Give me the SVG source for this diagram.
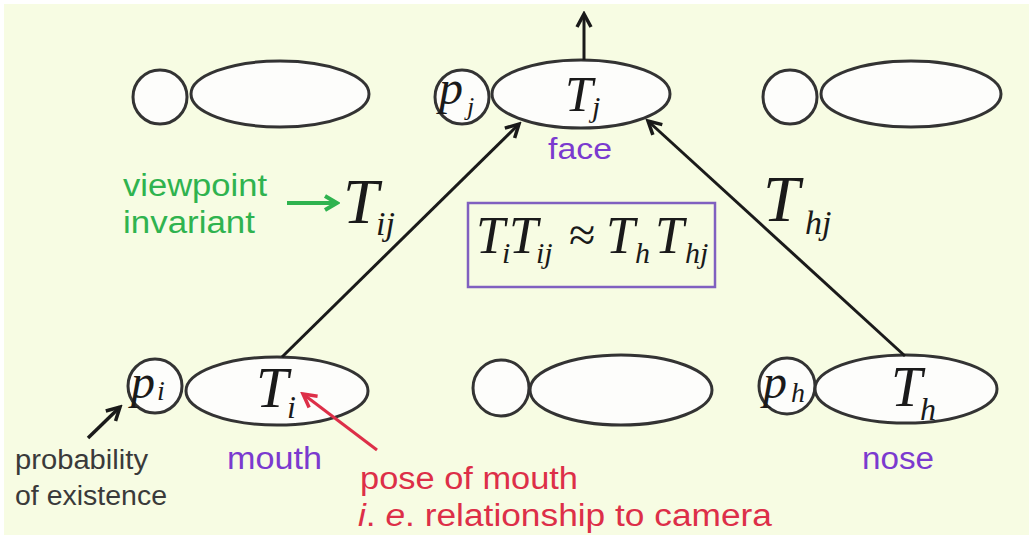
<svg xmlns="http://www.w3.org/2000/svg" width="1029" height="535" viewBox="0 0 1029 535">
<style>
.bg{fill:#f7fce3}
.c{fill:#fdfdfb;stroke:#333;stroke-width:3}
.m{font-family:"Liberation Serif",serif;font-style:italic;fill:#1a1a1a}
.s{font-family:"Liberation Sans",Arial,sans-serif}
.pur{fill:#7b3acf}
.grn{fill:#2fb34f}
.red{fill:#dd2f48}
.gry{fill:#3a3a3a}
.ln{fill:none;stroke:#1a1a1a;stroke-width:3}
</style>
<defs>
<marker id="ak" viewBox="0 0 20 20" refX="17" refY="10" markerWidth="20" markerHeight="20" markerUnits="userSpaceOnUse" orient="auto">
<path d="M4,3 L17,10 L4,17" fill="none" stroke="#1a1a1a" stroke-width="3.5"/>
</marker>
<marker id="ag" viewBox="0 0 20 20" refX="17" refY="10" markerWidth="20" markerHeight="20" markerUnits="userSpaceOnUse" orient="auto">
<path d="M5,3 L17,10 L5,17" fill="none" stroke="#2fb34f" stroke-width="4"/>
</marker>
<marker id="ar" viewBox="0 0 20 20" refX="17" refY="10" markerWidth="20" markerHeight="20" markerUnits="userSpaceOnUse" orient="auto">
<path d="M4,3 L17,10 L4,17" fill="none" stroke="#dd2f48" stroke-width="3.5"/>
</marker>
</defs>
<rect class="bg" x="4" y="4" width="1025" height="531"/>

<g id="node-top-left">
<circle class="c" cx="160" cy="97" r="27"/>
<ellipse class="c" cx="280" cy="94" rx="89" ry="33"/>
</g>

<g id="node-face">
<circle class="c" cx="462" cy="97" r="27"/>
<ellipse class="c" cx="581" cy="94" rx="89" ry="34"/>
<text class="m"><tspan x="439" y="104" font-size="48">p</tspan><tspan x="467" y="115" font-size="26">j</tspan></text>
<text class="m"><tspan x="565" y="111" font-size="50">T</tspan><tspan x="592" y="117" font-size="30">j</tspan></text>
<text class="s pur" x="548" y="159" font-size="30" textLength="64" lengthAdjust="spacingAndGlyphs">face</text>
</g>

<g id="node-top-right">
<circle class="c" cx="790" cy="97" r="27"/>
<ellipse class="c" cx="911" cy="94" rx="90" ry="33"/>
</g>

<g id="node-mouth">
<circle class="c" cx="155" cy="386" r="27"/>
<ellipse class="c" cx="277" cy="391" rx="91" ry="34"/>
<text class="m"><tspan x="131" y="398" font-size="48">p</tspan><tspan x="157" y="400" font-size="28">i</tspan></text>
<text class="m"><tspan x="256" y="407" font-size="58">T</tspan><tspan x="287" y="418" font-size="32">i</tspan></text>
<text class="s pur" x="227" y="469" font-size="31" textLength="95" lengthAdjust="spacingAndGlyphs">mouth</text>
</g>

<g id="node-bottom-middle">
<circle class="c" cx="501" cy="388" r="28"/>
<ellipse class="c" cx="621" cy="390" rx="91" ry="35"/>
</g>

<g id="node-nose">
<circle class="c" cx="787" cy="386" r="28"/>
<ellipse class="c" cx="906" cy="389" rx="91" ry="34"/>
<text class="m"><tspan x="763" y="398" font-size="48">p</tspan><tspan x="791" y="402" font-size="28">h</tspan></text>
<text class="m"><tspan x="891" y="406" font-size="56">T</tspan><tspan x="920" y="420" font-size="32">h</tspan></text>
<text class="s pur" x="862" y="469" font-size="31" textLength="72" lengthAdjust="spacingAndGlyphs">nose</text>
</g>

<g id="label-Tij">
<text class="m"><tspan x="343" y="223" font-size="64">T</tspan><tspan x="376" y="235" font-size="34">ij</tspan></text>
</g>

<g id="label-Thj">
<text class="m"><tspan x="763" y="221" font-size="66">T</tspan><tspan x="805" y="234" font-size="34">hj</tspan></text>
</g>

<g id="viewpoint-note">
<text class="s grn" x="123" y="196" font-size="31" textLength="144" lengthAdjust="spacingAndGlyphs">viewpoint</text>
<text class="s grn" x="123" y="233" font-size="31" textLength="132" lengthAdjust="spacingAndGlyphs">invariant</text>
</g>

<g id="equation">
<rect x="468" y="203" width="247" height="84" fill="none" stroke="#8060c0" stroke-width="2.5"/>
<text class="m"><tspan x="476" y="253" font-size="52">T</tspan><tspan x="502" y="263" font-size="30">i</tspan><tspan x="509" y="253" font-size="52">T</tspan><tspan x="536" y="263" font-size="30">ij</tspan><tspan x="569" y="251" font-size="48" font-style="normal">≈</tspan><tspan x="606" y="253" font-size="52">T</tspan><tspan x="635" y="263" font-size="30">h</tspan><tspan x="655" y="253" font-size="52">T</tspan><tspan x="685" y="263" font-size="30">hj</tspan></text>
</g>

<g id="existence-note">
<text class="s gry" x="15" y="469" font-size="27" textLength="133" lengthAdjust="spacingAndGlyphs">probability</text>
<text class="s gry" x="15" y="505" font-size="27" textLength="152" lengthAdjust="spacingAndGlyphs">of existence</text>
</g>

<g id="pose-note">
<text class="s red" x="360" y="489" font-size="31" textLength="218" lengthAdjust="spacingAndGlyphs">pose of mouth</text>
<text class="s red" x="358" y="526" font-size="31" textLength="414" lengthAdjust="spacingAndGlyphs"><tspan font-style="italic">i</tspan>. <tspan font-style="italic">e</tspan>. relationship to camera</text>
</g>

<g id="connectors">
<line class="ln" x1="282" y1="357" x2="519" y2="124" marker-end="url(#ak)"/>
<line class="ln" x1="905" y1="356" x2="648" y2="121" marker-end="url(#ak)"/>
<line class="ln" x1="584" y1="60" x2="584" y2="14" marker-end="url(#ak)"/>
<line x1="287" y1="203" x2="337" y2="203" stroke="#2fb34f" stroke-width="4" marker-end="url(#ag)"/>
<line x1="377" y1="450" x2="303" y2="394" stroke="#dd2f48" stroke-width="3" marker-end="url(#ar)"/>
<line x1="88" y1="438" x2="120" y2="407" stroke="#1a1a1a" stroke-width="3.5" marker-end="url(#ak)"/>
</g>
</svg>
